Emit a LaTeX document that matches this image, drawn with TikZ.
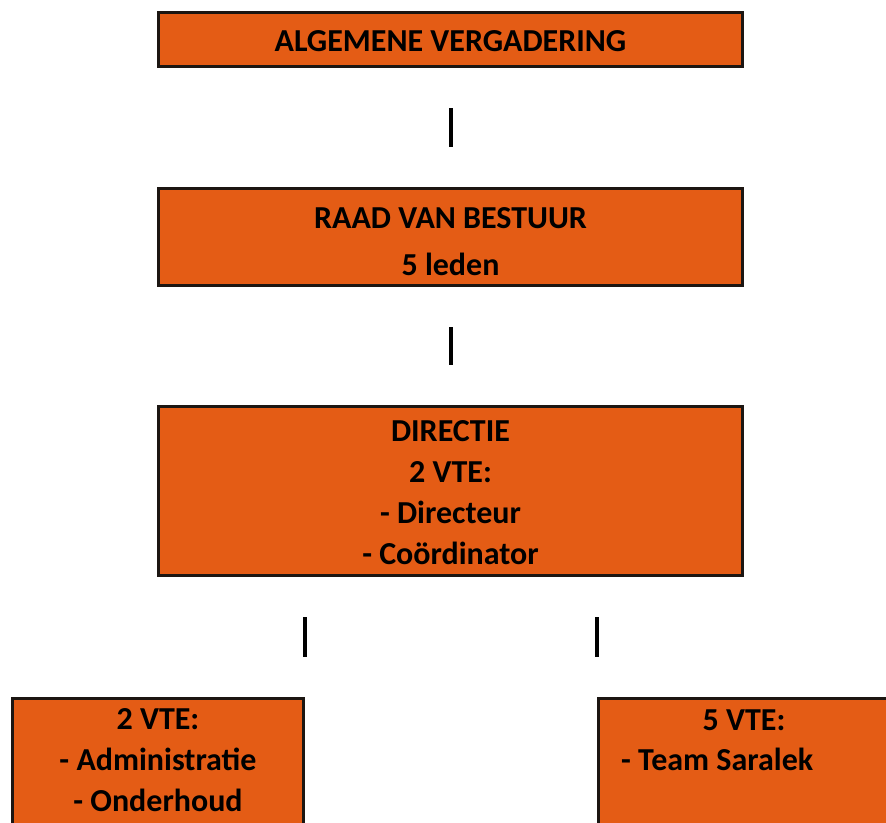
\documentclass[tikz,border=0pt]{standalone}
\usepackage{fontspec}
\setmainfont{Carlito}
\usepackage{tikz}
\usetikzlibrary{positioning}
\definecolor{vgorange}{RGB}{228,92,21}
\definecolor{vgline}{RGB}{28,22,18}
\tikzset{
  orgbox/.style={draw=vgline,line width=3pt,fill=vgorange,inner sep=0pt,
    align=center,font=\bfseries\fontsize{32}{41}\selectfont},
  orgtext/.style={inner sep=0pt,font=\bfseries\fontsize{32}{41}\selectfont},
  bar/.style={line width=4pt,shorten <=40pt,shorten >=40pt}
}
\begin{document}
\begin{tikzpicture}[x=1pt,y=-1pt]
\useasboundingbox (0,0) rectangle (886,822);
%
\node[orgbox,minimum width=584pt,minimum height=54pt] (alg) at (450.5,39.5) {\rule{0pt}{25pt}ALGEMENE VERGADERING};
\node[orgbox,minimum width=584pt,minimum height=97pt] (rvb) at (450.5,237) {\rule{0pt}{30pt}RAAD VAN BESTUUR\\[6pt]5 leden};
\node[orgbox,minimum width=584pt,minimum height=169pt] (dir) at (450.5,491) {\rule{0pt}{24pt}DIRECTIE\\2 VTE:\\- Directeur\\- Coördinator};
\node[orgbox,minimum width=291pt,minimum height=160pt] (adm) at (158,778.5) {};
\node[orgbox,minimum width=291pt,minimum height=160pt] (team) at (744,778.5) {};
%
\node[orgtext,anchor=north,align=center] (admtxt) at ([yshift=-11pt]adm.north) {2 VTE:\\- Administratie\\- Onderhoud};
\node[orgtext,anchor=base] (teamvte) at ([yshift=-33pt]team.north) {5 VTE:};
\node[orgtext,anchor=base west] (teamsar) at ([xshift=24pt,yshift=-73pt]team.north west) {- Team Saralek};
%
\draw[bar] (alg) -- (rvb);
\draw[bar] (rvb) -- (dir);
\draw[bar] (dir.south -| adm.north east) -- (adm.north east);
\draw[bar] (dir.south -| team.north west) -- (team.north west);
\end{tikzpicture}
\end{document}
